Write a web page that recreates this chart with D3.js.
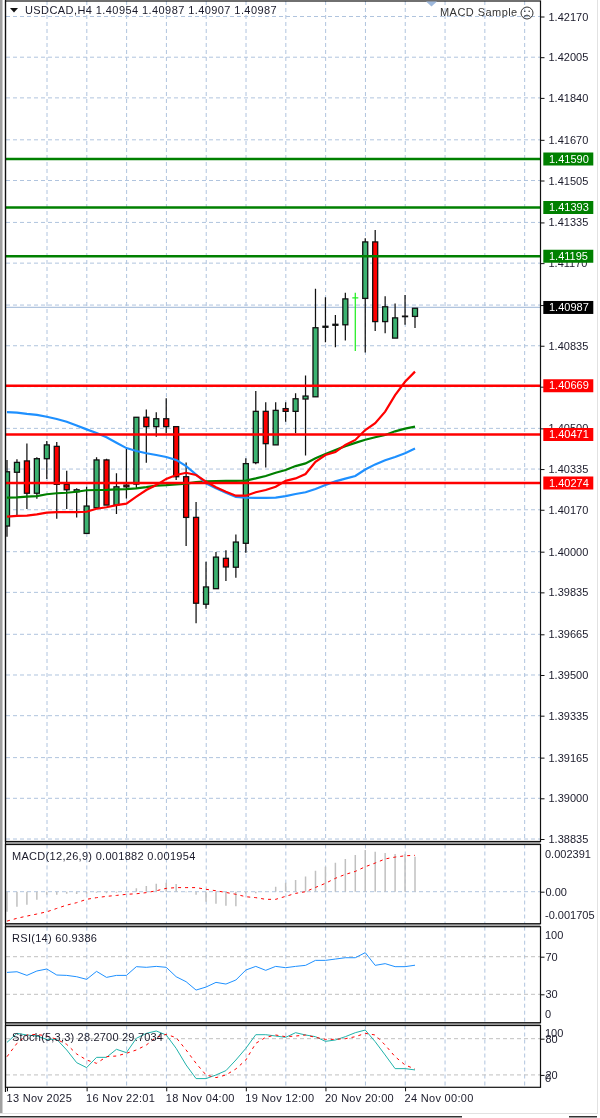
<!DOCTYPE html>
<html>
<head>
<meta charset="utf-8">
<title>USDCAD H4</title>
<script src="https://cdn.jsdelivr.net/npm/d3@7"></script>
<style>
  html, body { margin: 0; padding: 0; background: #fff; }
  svg { display: block; filter: blur(0.3px); }
  text { font-family: "Liberation Sans", sans-serif; font-size: 11px; fill: #1a1a2a; }
</style>
</head>
<body>
<script>
// candles, oldest first
var opens = [1.40104,1.40322,1.40368,1.40237,1.40377,1.40427,1.40273,1.40243,1.40074,1.40178,1.40372,1.40189,1.40270,1.40274,1.40545,1.40507,1.40539,1.40507,1.40304,1.40139,1.39787,1.39850,1.39973,1.39937,1.40034,1.40361,1.40569,1.40433,1.40580,1.40569,1.40619,1.40628,1.40910,1.40918,1.40920,1.41029,1.41027,1.41256,1.40933,1.40866,1.40953,1.40954];
var highs = [1.40372,1.40375,1.40439,1.40383,1.40449,1.40445,1.40328,1.40257,1.40263,1.40383,1.40377,1.40318,1.40416,1.40545,1.40577,1.40565,1.40622,1.40507,1.40362,1.40201,1.39959,1.39999,1.40006,1.40070,1.40379,1.40652,1.40606,1.40606,1.40606,1.40642,1.40714,1.41066,1.41032,1.40960,1.41050,1.41050,1.41271,1.41304,1.41036,1.41006,1.41041,1.40987];
var lows = [1.40061,1.40142,1.40173,1.40215,1.40295,1.40134,1.40173,1.40139,1.40074,1.40178,1.40189,1.40153,1.40216,1.40258,1.40361,1.40466,1.40480,1.40291,1.40023,1.39710,1.39769,1.39850,1.39881,1.39894,1.39996,1.40354,1.40341,1.40433,1.40527,1.40480,1.40390,1.40628,1.40849,1.40829,1.40856,1.40814,1.40808,1.40895,1.40886,1.40866,1.40920,1.40907];
var closes = [1.40324,1.40362,1.40237,1.40377,1.40433,1.40273,1.40251,1.40251,1.40185,1.40372,1.40189,1.40263,1.40263,1.40545,1.40507,1.40539,1.40507,1.40304,1.40139,1.39791,1.39857,1.39978,1.39938,1.40039,1.40357,1.40569,1.40438,1.40573,1.40569,1.40620,1.40631,1.40908,1.40914,1.40922,1.41025,1.41029,1.41256,1.40933,1.40993,1.40948,1.40955,1.40987];

// moving averages on the price panel
var maBlue = [1.40566,1.40564,1.40559,1.40555,1.40547,1.40538,1.40527,1.40512,1.40496,1.40481,1.40464,1.40442,1.40420,1.40408,1.40399,1.40392,1.40384,1.40372,1.40347,1.40313,1.40277,1.40257,1.40239,1.40222,1.40219,1.40218,1.40218,1.40219,1.40225,1.40234,1.40241,1.40254,1.40270,1.40285,1.40296,1.40307,1.40333,1.40354,1.40371,1.40384,1.40399,1.40418];
var maGreen = [1.40219,1.40220,1.40223,1.40225,1.40233,1.40237,1.40239,1.40243,1.40249,1.40250,1.40251,1.40253,1.40254,1.40257,1.40262,1.40268,1.40270,1.40273,1.40276,1.40282,1.40285,1.40286,1.40287,1.40287,1.40288,1.40297,1.40307,1.40320,1.40331,1.40347,1.40358,1.40379,1.40396,1.40412,1.40428,1.40441,1.40454,1.40464,1.40473,1.40488,1.40499,1.40507];
var maRed = [1.40142,1.40145,1.40146,1.40151,1.40158,1.40160,1.40160,1.40160,1.40162,1.40174,1.40180,1.40189,1.40195,1.40223,1.40250,1.40270,1.40295,1.40311,1.40320,1.40311,1.40284,1.40261,1.40243,1.40227,1.40227,1.40241,1.40250,1.40263,1.40287,1.40297,1.40315,1.40364,1.40392,1.40404,1.40433,1.40453,1.40493,1.40521,1.40568,1.40635,1.40689,1.40730];

// indicators
var macdHist = [-0.00108,-0.00081,-0.00070,-0.00043,-0.00016,-0.00016,-0.00011,-0.00013,-0.00011,-0.00005,-0.00008,-0.00005,-0.00003,0.00019,0.00030,0.00043,0.00048,0.00041,-0.00003,-0.00016,-0.00054,-0.00065,-0.00075,-0.00078,-0.00011,-0.00008,0.00001,0.00027,0.00048,0.00063,0.00081,0.00113,0.00134,0.00156,0.00176,0.00197,0.00224,0.00215,0.00208,0.00203,0.00203,0.001882];
var macdSignal = [-0.00158,-0.00143,-0.00131,-0.00120,-0.00108,-0.00090,-0.00072,-0.00059,-0.00041,-0.00032,-0.00025,-0.00020,-0.00014,-0.00011,-0.00005,0.00005,0.00018,0.00022,0.00022,0.00022,0.00013,0.00005,-0.00004,-0.00014,-0.00027,-0.00032,-0.00041,-0.00041,-0.00025,-0.00009,0.00000,0.00023,0.00045,0.00072,0.00093,0.00109,0.00134,0.00154,0.00176,0.00186,0.00193,0.001954];
var rsiValues = [53.3,54.0,50.1,54.8,56.9,50.5,50.1,48.7,45.9,54.4,48.0,50.1,50.1,59.4,58.7,59.7,58.7,48.7,43.4,34.5,37.7,42.7,40.9,45.2,55.8,59.7,55.5,59.7,58.3,59.7,60.8,66.1,66.1,67.5,68.9,68.9,74.3,60.8,62.6,59.4,59.4,60.94];
var stochMain = [73.9,88.8,86.1,84.4,78.9,78.9,61.3,40.3,32.1,49.1,49.1,62.4,56.9,80.6,88.8,92.7,86.1,64.0,36.5,13.9,13.9,19.9,27.1,44.7,64.0,86.6,86.6,84.4,82.2,89.9,86.1,83.3,75.6,77.8,83.3,89.9,94.3,75.0,53.0,30.4,30.4,28.27];
var stochSignal = [50.2,72.3,86.1,87.2,84.4,78.9,70.6,54.7,44.7,39.2,50.2,51.3,55.8,61.3,69.5,82.2,87.2,81.7,61.3,39.2,19.9,15.5,19.9,29.9,44.7,72.3,82.2,86.1,83.3,84.4,86.1,82.2,78.9,78.9,80.0,83.3,88.8,86.1,69.5,50.2,36.5,29.70];

// axes and levels
var priceTicks = [1.42170,1.42005,1.41840,1.41670,1.41505,1.41335,1.41170,1.41000,1.40835,1.40669,1.40500,1.40335,1.40170,1.40000,1.39835,1.39665,1.39500,1.39335,1.39165,1.39000,1.38835];
var resistLevels = [1.41590,1.41393,1.41195];
var supportLevels = [1.40669,1.40471,1.40274];
var lastPrice = 1.40987;
var timeTicks = [0,8,16,24,32,40];
var timeLabels = ["13 Nov 2025","16 Nov 22:01","18 Nov 04:00","19 Nov 12:00","20 Nov 20:00","24 Nov 00:00"];
var gridBars = [4,8,12,16,20,24,28,32,36,40,44,48,52];

var w = 600, h = 1118;
var left = 6, right = 540.5;

// panel frames
var pMain = {top: 1, bottom: 841.5};
var pMacd = {top: 844.5, bottom: 923.7};
var pRsi = {top: 926.7, bottom: 1022.7};
var pStoch = {top: 1025.5, bottom: 1087.3};

var svg = d3.select("body").append("svg").attr("width", w).attr("height", h);

// window chrome
svg.append("rect").attr("x", 0).attr("y", 0).attr("width", 2.5).attr("height", 1113).attr("fill", "#a0a0a0");
svg.append("rect").attr("x", 597).attr("y", 0).attr("width", 1).attr("height", 1113).attr("fill", "#e2e2e2");
svg.append("rect").attr("x", 0).attr("y", 1113).attr("width", 598).attr("height", 1).attr("fill", "#e2e2e2");
svg.append("rect").attr("x", 0).attr("y", 1116).attr("width", 462).attr("height", 1.5).attr("fill", "#333");
svg.append("rect").attr("x", 569).attr("y", 1116).attr("width", 28).attr("height", 1.5).attr("fill", "#333");
// gray bars between the panels
[[841.5, 3], [923.7, 3], [1022.7, 2.8]].forEach(function(b) {
  svg.append("rect").attr("x", left).attr("y", b[0]).attr("width", right - left).attr("height", b[1]).attr("fill", "#a8a8a8");
});

svg.append("clipPath").attr("id", "plot").append("rect")
   .attr("x", left).attr("y", 0).attr("width", right - left).attr("height", h);

// scales
var x = d3.scaleLinear().domain([0, 41]).range([7, 415]);
var yPrice = d3.scaleLinear().domain([1.42170, 1.38835]).range([16.5, 839]);
// the tick labels are rounded, so the level lines get their own fit
var yLevel = d3.scaleLinear().domain([1.41590, 1.40274]).range([159, 483]);
var yMacd = d3.scaleLinear().domain([0, 0.002391]).range([891.7, 847.2]);
var yRsi = d3.scaleLinear().domain([100, 0]).range([928.5, 1022.5]);
var yStoch = d3.scaleLinear().domain([100, 0]).range([1026.6, 1087]);

var plot = svg.append("g").attr("clip-path", "url(#plot)");

// vertical grid runs through all the panels
[pMain, pMacd, pRsi, pStoch].forEach(function(p) {
  plot.append("g").selectAll("line").data(gridBars).enter().append("line")
      .attr("x1", function(d) { return x(d) + 0.2; })
      .attr("x2", function(d) { return x(d) + 0.2; })
      .attr("y1", p.top)
      .attr("y2", p.bottom)
      .attr("stroke", "#b0c4de")
      .attr("stroke-dasharray", "4,3");
});

// horizontal grid on the price panel
plot.append("g").selectAll("line").data(priceTicks).enter().append("line")
    .attr("x1", left).attr("x2", right)
    .attr("y1", function(d) { return yPrice(d); })
    .attr("y2", function(d) { return yPrice(d); })
    .attr("stroke", "#b0c4de")
    .attr("stroke-dasharray", "4,3");

// last price line
plot.append("line").attr("x1", left).attr("x2", right)
    .attr("y1", yLevel(lastPrice)).attr("y2", yLevel(lastPrice))
    .attr("stroke", "#b0c4de").attr("stroke-width", 1.2);

// candles
var idx = d3.range(opens.length);
var candles = plot.append("g").selectAll("g").data(idx).enter().append("g");

function isDoji(i) { return opens[i] === closes[i]; }

candles.append("line")
    .attr("x1", function(i) { return x(i); })
    .attr("x2", function(i) { return x(i); })
    .attr("y1", function(i) { return yPrice(highs[i]); })
    .attr("y2", function(i) { return yPrice(lows[i]); })
    .attr("stroke", function(i) { return isDoji(i) ? "#22ee22" : "#111"; })
    .attr("stroke-width", 1.25);

// a zero height rect draws nothing, so dojis get a plain dash
candles.filter(isDoji).append("line")
    .attr("x1", function(i) { return x(i) - 3; })
    .attr("x2", function(i) { return x(i) + 3; })
    .attr("y1", function(i) { return yPrice(closes[i]); })
    .attr("y2", function(i) { return yPrice(closes[i]); })
    .attr("stroke", "#22ee22")
    .attr("stroke-width", 1.25);

candles.filter(function(i) { return !isDoji(i); }).append("rect")
    .attr("x", function(i) { return x(i) - 2.5; })
    .attr("width", 5)
    .attr("y", function(i) { return yPrice(Math.max(opens[i], closes[i])); })
    .attr("height", function(i) { return Math.abs(yPrice(opens[i]) - yPrice(closes[i])); })
    .attr("fill", function(i) { return closes[i] >= opens[i] ? "#3cb371" : "#ff0000"; })
    .attr("stroke", "#111")
    .attr("stroke-width", 1.3);

// moving averages
function priceLine(values) {
  return d3.line().x(function(d, i) { return x(i); }).y(function(d) { return yPrice(d); })(values);
}
[[maGreen, "#008000"], [maBlue, "#1e90ff"], [maRed, "#ff0000"]].forEach(function(s) {
  plot.append("path").attr("d", priceLine(s[0])).attr("fill", "none")
      .attr("stroke", s[1]).attr("stroke-width", 2.2);
});

// support and resistance lines
[[resistLevels, "#008000"], [supportLevels, "#ff0000"]].forEach(function(s) {
  plot.append("g").selectAll("line").data(s[0]).enter().append("line")
      .attr("x1", left).attr("x2", right)
      .attr("y1", function(d) { return yLevel(d); })
      .attr("y2", function(d) { return yLevel(d); })
      .attr("stroke", s[1]).attr("stroke-width", 2.3);
});

// MACD panel
plot.append("line").attr("x1", left).attr("x2", right)
    .attr("y1", yMacd(0)).attr("y2", yMacd(0))
    .attr("stroke", "#b0c4de").attr("stroke-dasharray", "4,3");
plot.append("g").selectAll("line").data(macdHist).enter().append("line")
    .attr("x1", function(d, i) { return x(i); })
    .attr("x2", function(d, i) { return x(i); })
    .attr("y1", yMacd(0))
    .attr("y2", function(d) { return yMacd(d); })
    .attr("stroke", "#c0c0c0")
    .attr("stroke-width", 1.5);
plot.append("path")
    .attr("d", d3.line().x(function(d, i) { return x(i); }).y(function(d) { return yMacd(d); })(macdSignal))
    .attr("fill", "none").attr("stroke", "#ff0000").attr("stroke-dasharray", "3,4");

// level lines of the two oscillators
function levelLines(scale, levels) {
  plot.append("g").selectAll("line").data(levels).enter().append("line")
      .attr("x1", left).attr("x2", right)
      .attr("y1", function(d) { return scale(d); })
      .attr("y2", function(d) { return scale(d); })
      .attr("stroke", "#c0c0c0")
      .attr("stroke-dasharray", "4,3");
}

// RSI panel
levelLines(yRsi, [70, 30]);
plot.append("path")
    .attr("d", d3.line().x(function(d, i) { return x(i); }).y(function(d) { return yRsi(d); })(rsiValues))
    .attr("fill", "none").attr("stroke", "#1e90ff");

// Stochastic panel
levelLines(yStoch, [80, 20]);
plot.append("path")
    .attr("d", d3.line().x(function(d, i) { return x(i); }).y(function(d) { return yStoch(d); })(stochMain))
    .attr("fill", "none").attr("stroke", "#20b2aa");
plot.append("path")
    .attr("d", d3.line().x(function(d, i) { return x(i); }).y(function(d) { return yStoch(d); })(stochSignal))
    .attr("fill", "none").attr("stroke", "#ff0000").attr("stroke-dasharray", "3,4");

// frames
[pMain, pMacd, pRsi, pStoch].forEach(function(p) {
  svg.append("rect").attr("x", left - 0.5).attr("y", p.top)
     .attr("width", right - left + 0.5).attr("height", p.bottom - p.top)
     .attr("fill", "none").attr("stroke", "#111").attr("stroke-width", 1.2);
});
// the left edge of the chart window runs down to the bottom
svg.append("line").attr("x1", left - 0.5).attr("x2", left - 0.5).attr("y1", 0).attr("y2", 1092)
   .attr("stroke", "#111").attr("stroke-width", 1.2);

// price axis
var priceAxis = svg.append("g").attr("transform", "translate(" + right + ",0)")
    .call(d3.axisRight(yPrice).tickValues(priceTicks).tickFormat(d3.format(".5f")).tickSize(4).tickPadding(4));
priceAxis.select(".domain").remove();

// ticks and labels of the small panels, the end labels sit inside the panel
function sideAxis(scale, ticks, format, ends) {
  var g = svg.append("g").attr("transform", "translate(" + right + ",0)")
      .call(d3.axisRight(scale).tickValues(ticks).tickFormat(format).tickSize(4).tickPadding(1));
  g.select(".domain").remove();
  ends.forEach(function(e) {
    g.append("text").attr("x", 4.5).attr("y", scale(e[0]) + e[1]).attr("dy", "0.32em").text(e[2]);
  });
}
sideAxis(yMacd, [0], function() { return "0.00"; }, [[0.002391, 7, "0.002391"], [-0.001705, -8, "-0.001705"]]);
sideAxis(yRsi, [70, 30], d3.format("d"), [[100, 7, "100"], [0, -8, "0"]]);
sideAxis(yStoch, [80, 20], d3.format("d"), [[100, 7, "100"], [0, -8.7, "0"]]);

// time axis
var timeAxis = svg.append("g").attr("transform", "translate(0," + pStoch.bottom + ")")
    .call(d3.axisBottom(x).tickValues(timeTicks)
      .tickFormat(function(d, i) { return timeLabels[i]; }).tickSize(4).tickPadding(3));
timeAxis.select(".domain").remove();
timeAxis.selectAll("text").attr("text-anchor", "start").attr("dx", -1).style("letter-spacing", "0.3px");

svg.selectAll(".tick line").attr("stroke", "#111");
svg.selectAll(".tick text").style("font-family", null).style("font-size", null).attr("font-family", null).attr("font-size", null);

// value boxes on the price scale, over the tick labels
function valueBox(value, color) {
  var g = svg.append("g");
  g.append("rect").attr("x", 543.3).attr("y", yLevel(value) - 6.5)
   .attr("width", 50).attr("height", 13).attr("fill", color);
  g.append("text").attr("x", 549).attr("y", yLevel(value)).attr("dy", "0.32em")
   .style("fill", "#fff").text(d3.format(".5f")(value));
}
resistLevels.forEach(function(v) { valueBox(v, "#008000"); });
supportLevels.forEach(function(v) { valueBox(v, "#ff0000"); });
valueBox(lastPrice, "#000");

// titles
svg.append("path").attr("d", "M10,8 L18,8 L14,12.5 Z").attr("fill", "#111");
svg.append("text").attr("x", 25).attr("y", 14).style("letter-spacing", "0.42px")
   .text("USDCAD,H4  1.40954 1.40987 1.40907 1.40987");
svg.append("text").attr("x", 12).attr("y", 859.5).style("letter-spacing", "0.3px").text("MACD(12,26,9) 0.001882 0.001954");
svg.append("text").attr("x", 12).attr("y", 942).style("letter-spacing", "0.3px").text("RSI(14) 60.9386");
svg.append("text").attr("x", 12).attr("y", 1040.5).style("letter-spacing", "0.2px").text("Stoch(5,3,3) 28.2700 29.7034");

// expert advisor mark, top right
svg.append("path").attr("d", "M426,1.5 L437,1.5 L431.5,6.5 Z").attr("fill", "#9db8dc");
svg.append("text").attr("x", 440).attr("y", 16).style("fill", "#333").style("letter-spacing", "0.45px").text("MACD Sample");
svg.append("circle").attr("cx", 527).attr("cy", 13).attr("r", 6).attr("fill", "none").attr("stroke", "#333");
svg.append("circle").attr("cx", 524.8).attr("cy", 11.2).attr("r", 0.8).attr("fill", "#333");
svg.append("circle").attr("cx", 529.2).attr("cy", 11.2).attr("r", 0.8).attr("fill", "#333");
svg.append("path").attr("d", "M523.8,16.5 Q527,13.5 530.2,16.5").attr("fill", "none").attr("stroke", "#333");
</script>
</body>
</html>
